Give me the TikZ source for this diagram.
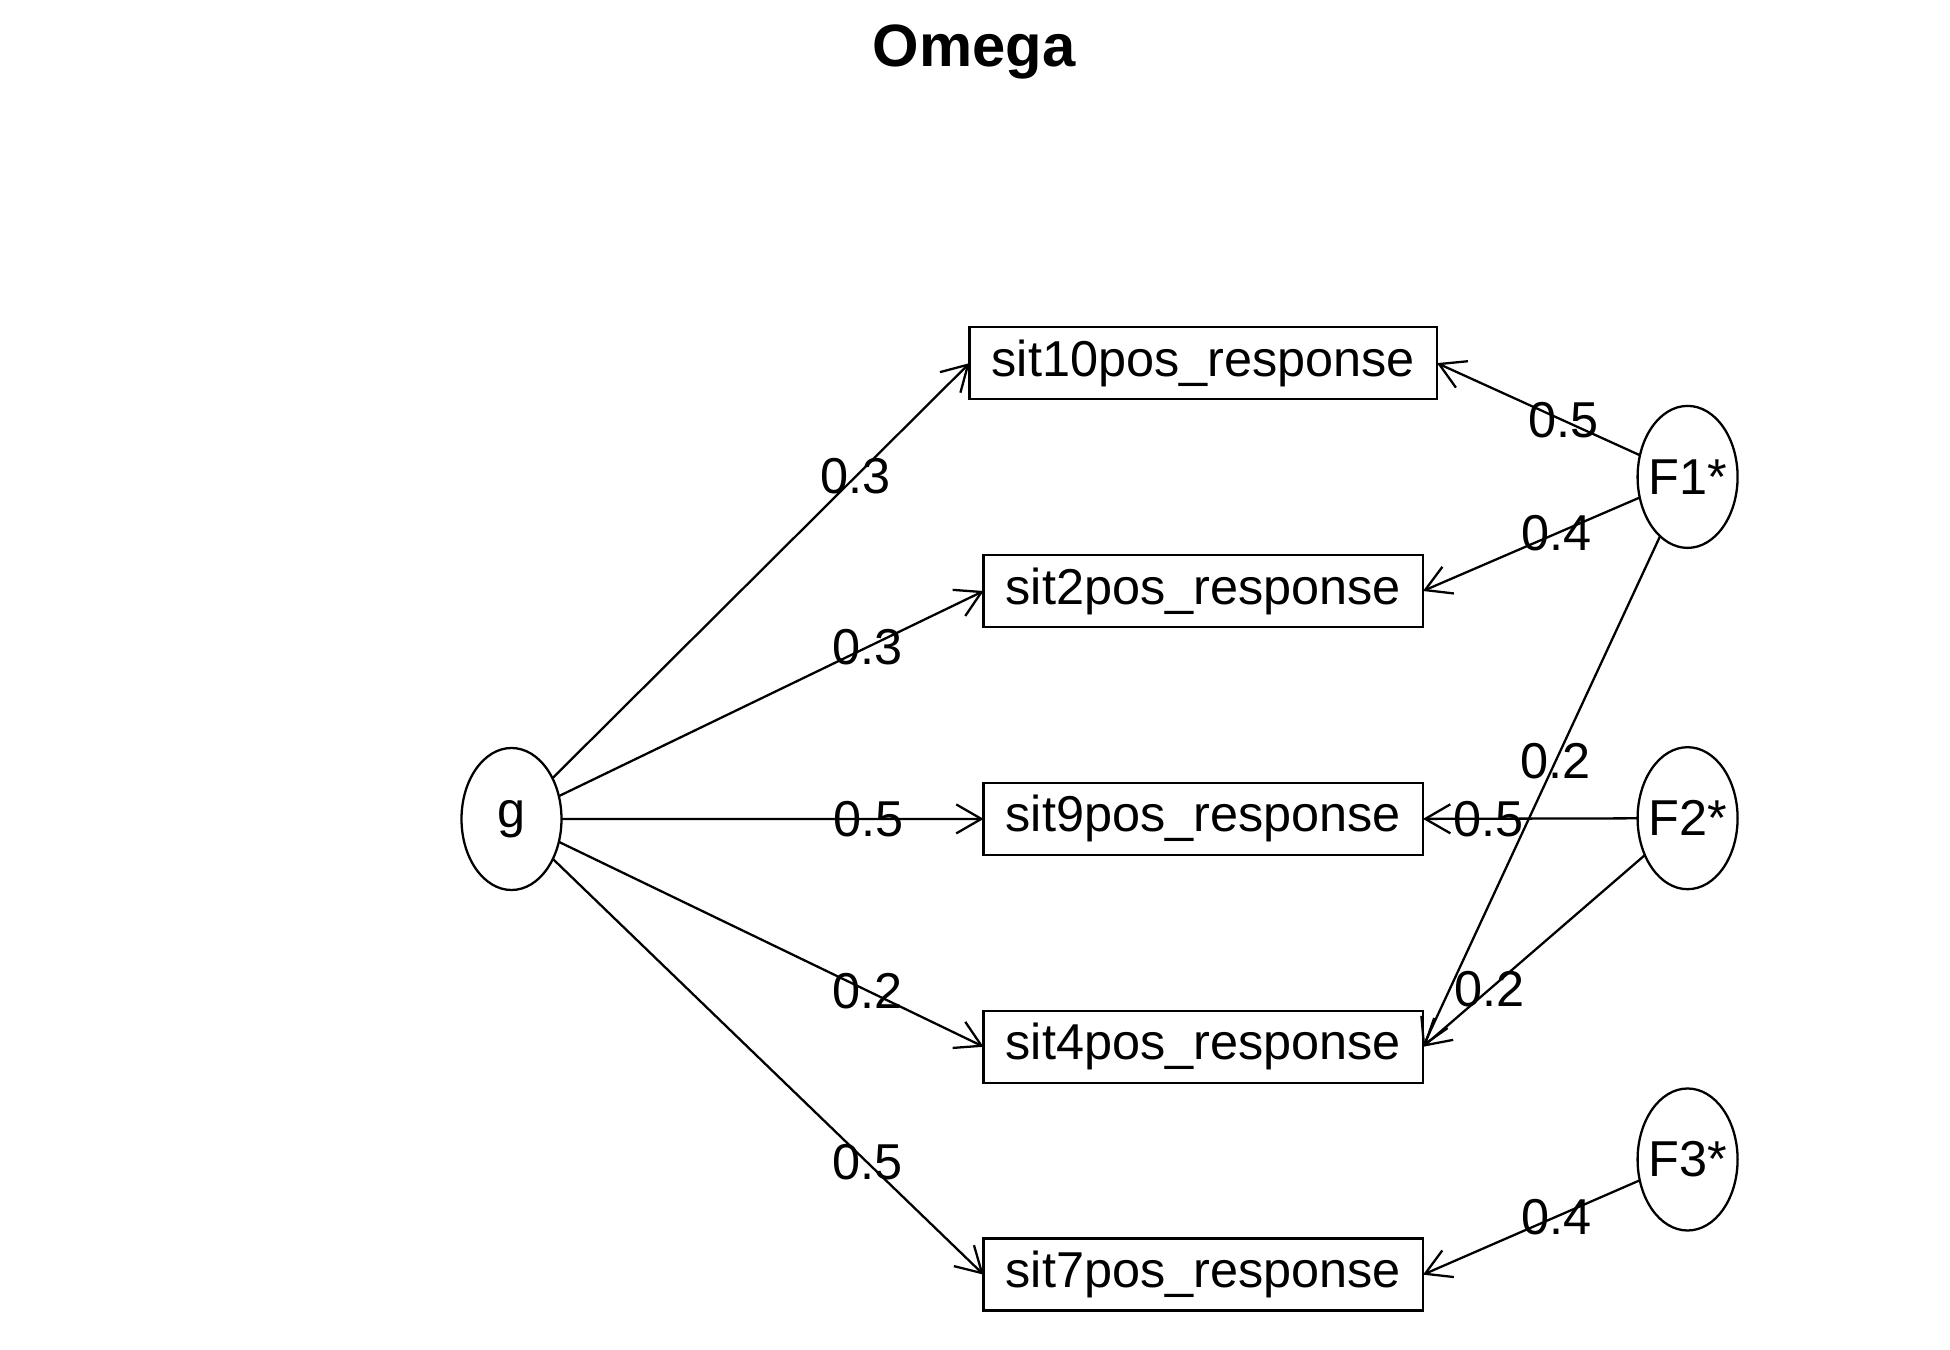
\documentclass[tikz,border=0pt]{standalone}
\usepackage{fontspec}
\setmainfont{Liberation Sans}
\usetikzlibrary{positioning, shapes.geometric, arrows.meta}

\begin{document}
\begin{tikzpicture}[node distance = {22.79mm},
	font = \fontsize{14.35}{17}\selectfont,
	item/.style = {draw, rectangle, line width=0.7pt, minimum height=7.2mm, inner xsep=2.2mm, inner ysep=0pt, outer sep=0pt},
	fac/.style = {draw, ellipse, line width=0.65pt, minimum width=10mm, minimum height=14.2mm, inner sep=0pt, outer sep=0pt},
	load/.style = {-{Straight Barb[angle=60:2.9mm]}, line width=0.65pt}]
	\useasboundingbox (0,0) rectangle (19.5,13.5);
	\node[anchor=base, font=\fontsize{17}{20}\selectfont\bfseries] (title) at (9.74,12.83) {Omega};
	% observed items
	\node[item] (sit10) at (12.033,9.869) {sit10pos\_response};
	\node[item] (sit2) [below of=sit10] {sit2pos\_response};
	\node[item] (sit9) [below of=sit2] {sit9pos\_response};
	\node[item] (sit4) [below of=sit9] {sit4pos\_response};
	\node[item] (sit7) [below of=sit4] {sit7pos\_response};
	% factors
	\node[fac, label=center:g] (g) at (5.115,5.31) {};
	\node[fac, label=center:F1*] (F1) at (16.876,8.731) {};
	\node[fac, label=center:F2*] (F2) [below of=F1, node distance=34.13mm] {};
	\node[fac, label=center:F3*] (F3) [below of=F2, node distance=34.13mm] {};
	% loadings
	\draw[load] (g) -- (sit10.west) node[pos=0.727] {0.3};
	\draw[load] (g) -- (sit2.west) node[pos=0.727] {0.3};
	\draw[load] (g) -- (sit9.west) node[pos=0.727] {0.5};
	\draw[load] (g) -- (sit4.west) node[pos=0.727] {0.2};
	\draw[load] (g) -- (sit7.west) node[pos=0.73] {0.5};
	\draw[load] (F1) -- (sit10.east) node[pos=0.377] {0.5};
	\draw[load] (F1) -- (sit2.east) node[pos=0.385] {0.4};
	\draw[load] (F1) -- (sit4.east) node[pos=0.44] {0.2};
	\draw[load] (F2) -- (sit9.east) node[pos=0.695] {0.5};
	\draw[load] (F2) -- (sit4.east) node[pos=0.70] {0.2};
	\draw[load] (F3) -- (sit7.east) node[pos=0.385] {0.4};
\end{tikzpicture}
\end{document}
